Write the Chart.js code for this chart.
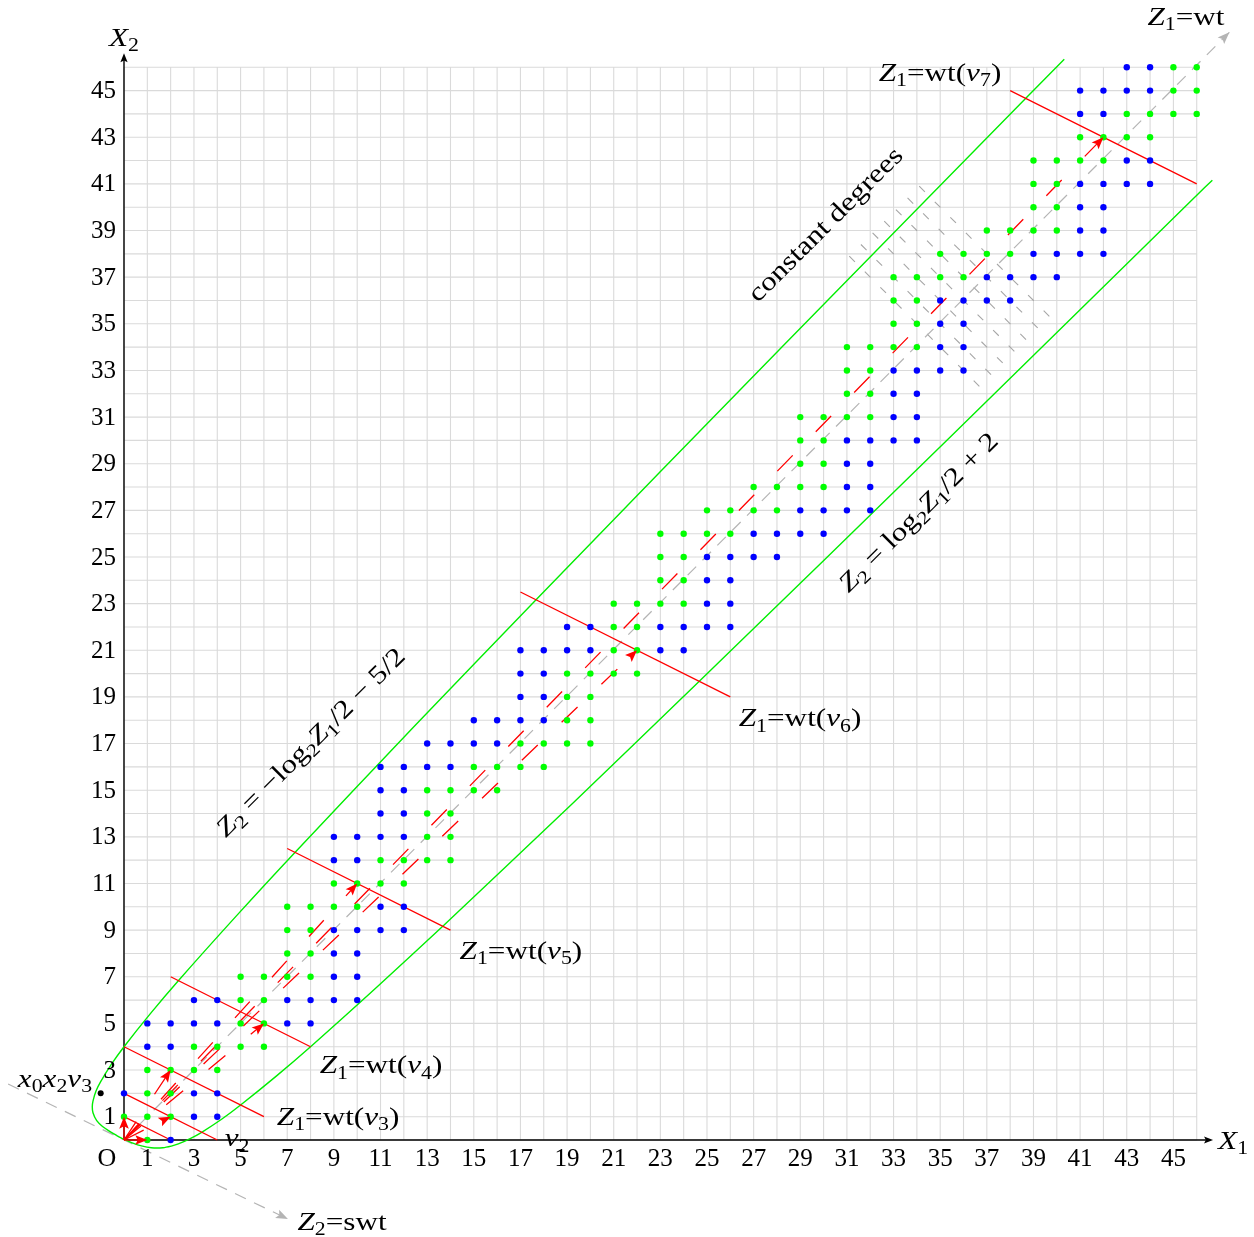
<!DOCTYPE html>
<html>
<head>
<meta charset="utf-8">
<script src="https://cdn.jsdelivr.net/npm/chart.js@4.4.1/dist/chart.umd.min.js"></script>
<style>
  html, body { margin: 0; padding: 0; background: #fff; }
  #wrap { width: 1254px; height: 1237px; }
</style>
</head>
<body>
<div id="wrap"><canvas id="chart" width="1254" height="1237"></canvas></div>
<script>
// lattice points, one entry per row: [X2, [X1 values]]
const greenRows = [
  [0, [1]], [1, [0, 1, 2]], [2, [1, 2]], [3, [1, 2, 3, 4]], [4, [3, 4, 5, 6]],
  [5, [5, 6]], [6, [5, 6]], [7, [5, 6, 7, 8]], [8, [7, 8]], [9, [7, 8]],
  [10, [7, 8, 9, 10]], [11, [9, 10, 11, 12]], [12, [11, 12, 13, 14]], [13, [13, 14]], [14, [13, 14]],
  [15, [13, 14, 15, 16]], [16, [15, 16, 17, 18]], [17, [17, 18, 19, 20]], [18, [19, 20]], [19, [19, 20]],
  [20, [19, 20, 21, 22]], [21, [21, 22]], [22, [21, 22]], [23, [21, 22, 23, 24]], [24, [23, 24]],
  [25, [23, 24]], [26, [23, 24, 25, 26]], [27, [25, 26, 27, 28]], [28, [27, 28, 29, 30]], [29, [29, 30]],
  [30, [29, 30]], [31, [29, 30, 31, 32]], [32, [31, 32]], [33, [31, 32]], [34, [31, 32, 33, 34]],
  [35, [33, 34]], [36, [33, 34]], [37, [33, 34, 35, 36]], [38, [35, 36, 37, 38]], [39, [37, 38, 39, 40]],
  [40, [39, 40]], [41, [39, 40]], [42, [39, 40, 41, 42]], [43, [41, 42, 43, 44]], [44, [43, 44, 45, 46]],
  [45, [45, 46]], [46, [45, 46]]
];
const blueRows = [
  [0, [2]], [1, [3, 4]], [2, [0, 3, 4]], [4, [1, 2]], [5, [1, 2, 3, 4, 7, 8]],
  [6, [3, 4, 7, 8, 9, 10]], [7, [9, 10]], [8, [9, 10]], [9, [9, 10, 11, 12]], [10, [11, 12]],
  [12, [9, 10]], [13, [9, 10, 11, 12]], [14, [11, 12]], [15, [11, 12]], [16, [11, 12, 13, 14]],
  [17, [13, 14, 15, 16]], [18, [15, 16, 17, 18]], [19, [17, 18]], [20, [17, 18]], [21, [17, 18, 19, 20, 23, 24]],
  [22, [19, 20, 23, 24, 25, 26]], [23, [25, 26]], [24, [25, 26]], [25, [25, 26, 27, 28]], [26, [27, 28, 29, 30]],
  [27, [29, 30, 31, 32]], [28, [31, 32]], [29, [31, 32]], [30, [31, 32, 33, 34]], [31, [33, 34]],
  [32, [33, 34]], [33, [33, 34, 35, 36]], [34, [35, 36]], [35, [35, 36]], [36, [35, 36, 37, 38]],
  [37, [37, 38, 39, 40]], [38, [39, 40, 41, 42]], [39, [41, 42]], [40, [41, 42]], [41, [41, 42, 43, 44]],
  [42, [43, 44]], [44, [41, 42]], [45, [41, 42, 43, 44]], [46, [43, 44]]
];
const blackDots = [[-1, 2]];

// Z1 = wt(v_k) level lines (x1 + 2 x2 = 2^k), end points
const wtLineEnds = [
  [[0, 1], [2, 0]], [[0, 2], [4, 0]], [[0, 4], [6, 1]], [[2, 7], [8, 4]],
  [[7, 12.5], [14, 9]], [[17, 23.5], [26, 19]], [[38, 45], [46, 41]]
];
// arrows from the origin
const solidArrowTips = [[0, 1], [1, 0]];
const dashedArrowTips = [[2, 1], [2, 3], [6, 5], [10, 11], [22, 21], [42, 43]];

// green bounds, points
const upperCurve = [
  [40.32, 46.34], [38.67, 44.67], [28.14, 33.93], [17.67, 23.17], [12.47, 17.76], [7.33, 12.33],
  [4.81, 9.60], [2.33, 6.83], [1.14, 5.43], [0, 4], [-0.53, 3.26], [-1.0, 2.5], [-1.2, 2.1],
  [-1.33, 1.67], [-1.36, 1.43], [-1.33, 1.17], [-1.17, 0.83], [-0.92, 0.58], [-0.63, 0.38],
  [-0.31, 0.19], [-0.15, 0.10]
];
const lowerCurve = [
  [0.02, 0.02], [0.38, -0.13], [0.75, -0.25], [1.17, -0.33], [1.67, -0.33], [2.03, -0.26],
  [2.33, -0.17], [2.86, 0.07], [3.33, 0.33], [4.2, 0.9], [5, 1.5], [6.53, 2.74], [8, 4],
  [10.86, 6.57], [13.67, 9.17], [19.2, 14.4], [24.67, 19.67], [35.53, 30.24], [46.33, 40.83], [46.67, 41.16]
];

// gray reference axes
const wtAxis = [[0, 0], [47.4, 47.5]];
const swtAxis = [[-4.97, 2.4], [7.03, -3.39]];

// "constant degrees" hatch: x1 + x2 = d, running across x1 - x2 in hatchSpan
const hatchDegrees = [69, 70, 71, 72, 73, 74, 75];
const hatchSpan = [-6.8, 5];

const gridMax = 46;
const oddTicks = [1, 3, 5, 7, 9, 11, 13, 15, 17, 19, 21, 23, 25, 27, 29, 31, 33, 35, 37, 39, 41, 43, 45];

// ---------------------------------------------------------------
const U = 23.32;
const W = 1254, H = 1237, OX = 124, OY = 1140;

const rowsToPts = rows => rows.flatMap(([yv, xs]) => xs.map(xv => ({ x: xv, y: yv })));
const pairsToPts = arr => arr.map(([a, b]) => ({ x: a, y: b }));

const RED = '#ff0000', GREEN = '#00ee00', GRAY = '#b4b4b4';

const datasets = [];
datasets.push({ data: rowsToPts(greenRows), pointRadius: 3.2, pointBackgroundColor: '#00ff00', pointBorderWidth: 0, order: 1 });
datasets.push({ data: rowsToPts(blueRows), pointRadius: 3.2, pointBackgroundColor: '#0000ff', pointBorderWidth: 0, order: 1 });
datasets.push({ data: pairsToPts(blackDots), pointRadius: 3, pointBackgroundColor: '#000', pointBorderWidth: 0, order: 1 });

wtLineEnds.forEach(seg => datasets.push({
  data: pairsToPts(seg), showLine: true, borderColor: RED, borderWidth: 1.3, pointRadius: 0, order: 3
}));
solidArrowTips.forEach(t => datasets.push({
  data: pairsToPts([[0, 0], t]), showLine: true, borderColor: RED, borderWidth: 1.3, pointRadius: 0, order: 2
}));
dashedArrowTips.forEach(t => datasets.push({
  data: pairsToPts([[0, 0], t]), showLine: true, borderColor: RED, borderWidth: 1.3,
  borderDash: [22, 33], pointRadius: 0, order: 2
}));
datasets.push({ data: pairsToPts(upperCurve.concat(lowerCurve)), showLine: true, borderColor: GREEN,
  borderWidth: 1.4, tension: 0.3, pointRadius: 0, order: 4 });
[wtAxis, swtAxis].forEach(seg => datasets.push({
  data: pairsToPts(seg), showLine: true, borderColor: GRAY, borderWidth: 1.2, borderDash: [12, 9], pointRadius: 0, order: 5
}));
hatchDegrees.forEach(d => datasets.push({
  data: hatchSpan.map(s => ({ x: (d + s) / 2, y: (d - s) / 2 })), showLine: true, borderColor: '#a6a6a6',
  borderWidth: 1.1, borderDash: [8, 14], pointRadius: 0, order: 6
}));

// text helpers
const SERIF = '"Liberation Serif", "DejaVu Serif", serif';
function fontFor(st, size) {
  return (st === 'i' ? 'italic ' : '') + (st === 's' ? size * 0.7 : size) + 'px ' + SERIF;
}
function richText(ctx, runs, px, py, size, angle, stretch) {
  ctx.save();
  ctx.translate(px, py);
  if (angle) ctx.rotate(angle);
  ctx.scale(stretch, 1);
  const widths = runs.map(([t, st]) => { ctx.font = fontFor(st, size); return ctx.measureText(t).width; });
  const total = widths.reduce((a, b) => a + b, 0);
  let cx = -total / 2;
  ctx.textBaseline = 'alphabetic';
  ctx.textAlign = 'left';
  ctx.fillStyle = '#000';
  runs.forEach(([t, st], k) => {
    ctx.font = fontFor(st, size);
    const dy = st === 's' ? size * 0.2 : 0;
    ctx.fillText(t, cx, size * 0.33 + dy);
    cx += widths[k];
  });
  ctx.restore();
}
function arrowHead(ctx, x0, y0, x1, y1, len, half, color) {
  const a = Math.atan2(y1 - y0, x1 - x0);
  ctx.save();
  ctx.fillStyle = color;
  ctx.translate(x1, y1);
  ctx.rotate(a);
  ctx.beginPath();
  ctx.moveTo(0, 0);
  ctx.lineTo(-len, -half);
  ctx.lineTo(-len * 0.8, 0);
  ctx.lineTo(-len, half);
  ctx.closePath();
  ctx.fill();
  ctx.restore();
}

const wtLabel = k => [['Z', 'i'], ['1', 's'], ['=', 'r'], ['wt(', 'r'], ['v', 'i'], [String(k), 's'], [')', 'r']];
const labels = [
  { runs: [['X', 'i'], ['2', 's']], at: [0, 47.3] },
  { runs: [['X', 'i'], ['1', 's']], at: [47.56, 0] },
  { runs: [['Z', 'i'], ['1', 's'], ['=', 'r'], ['wt', 'r']], at: [45.54, 48.2] },
  { runs: [['Z', 'i'], ['2', 's'], ['=', 'r'], ['swt', 'r']], at: [9.35, -3.47] },
  { runs: wtLabel(7), at: [34.99, 45.8] },
  { runs: wtLabel(6), at: [28.99, 18.1] },
  { runs: wtLabel(5), at: [17.02, 8.15] },
  { runs: wtLabel(4), at: [11.02, 3.22] },
  { runs: wtLabel(3), at: [9.18, 1.03] },
  { runs: [['v', 'i'], ['2', 's']], at: [4.85, 0.09] },
  { runs: [['x', 'i'], ['0', 's'], ['x', 'i'], ['2', 's'], ['v', 'i'], ['3', 's']], at: [-2.96, 2.66] },
  { runs: [['O', 'r']], at: [-0.73, -0.73], stretch: 1 },
  { runs: [['Z', 'i'], ['2', 's'], [' = \u2212log', 'r'], ['2', 's'], ['Z', 'i'], ['1', 's'], ['/2 \u2212 5/2', 'r']], at: [7.98, 17.07], rot: -Math.PI / 4 },
  { runs: [['Z', 'i'], ['2', 's'], [' = log', 'r'], ['2', 's'], ['Z', 'i'], ['1', 's'], ['/2 + 2', 'r']], at: [34.05, 26.93], rot: -Math.PI / 4 },
  { runs: [['constant degrees', 'r']], at: [30.06, 39.28], rot: -Math.PI / 4 }
];

const decor = {
  id: 'decor',
  beforeDatasetsDraw(chart) {
    const { ctx, scales: { x, y } } = chart;
    const X = v => x.getPixelForValue(v), Y = v => y.getPixelForValue(v);
    ctx.save();
    ctx.strokeStyle = '#dadada';
    ctx.lineWidth = 1.1;
    ctx.beginPath();
    for (let i = 0; i <= gridMax; i++) {
      ctx.moveTo(X(i), Y(0)); ctx.lineTo(X(i), Y(gridMax));
      ctx.moveTo(X(0), Y(i)); ctx.lineTo(X(gridMax), Y(i));
    }
    ctx.stroke();
    // axes
    ctx.strokeStyle = '#000';
    ctx.lineWidth = 1.4;
    ctx.beginPath();
    ctx.moveTo(X(0), Y(0)); ctx.lineTo(X(46.5), Y(0));
    ctx.moveTo(X(0), Y(0)); ctx.lineTo(X(0), Y(46.45));
    ctx.stroke();
    arrowHead(ctx, X(0), Y(0), X(46.7), Y(0), 9, 3.6, '#000');
    arrowHead(ctx, X(0), Y(0), X(0), Y(46.6), 9, 3.6, '#000');
    ctx.restore();
  },
  afterDatasetsDraw(chart) {
    const { ctx, scales: { x, y } } = chart;
    const X = v => x.getPixelForValue(v), Y = v => y.getPixelForValue(v);
    // arrow heads
    solidArrowTips.concat(dashedArrowTips).forEach(([a, b]) =>
      arrowHead(ctx, X(0), Y(0), X(a), Y(b), 12, 4.8, RED));
    [wtAxis, swtAxis].forEach(([p, q]) => arrowHead(ctx, X(p[0]), Y(p[1]), X(q[0]), Y(q[1]), 12, 4.6, GRAY));
    // tick labels
    ctx.save();
    ctx.fillStyle = '#000';
    ctx.font = '25px ' + SERIF;
    ctx.textAlign = 'center';
    ctx.textBaseline = 'middle';
    oddTicks.forEach(v => ctx.fillText(String(v), X(v), Y(0) + 19));
    ctx.textAlign = 'right';
    oddTicks.forEach(v => ctx.fillText(String(v), X(0) - 8, Y(v) + 1));
    ctx.restore();
    labels.forEach(l => richText(ctx, l.runs, X(l.at[0]), Y(l.at[1]), 26, l.rot || 0, l.stretch || 1.2));
  }
};

new Chart(document.getElementById('chart'), {
  type: 'scatter',
  data: { datasets },
  options: {
    responsive: false,
    animation: false,
    devicePixelRatio: 1,
    events: [],
    layout: { padding: 0, autoPadding: false },
    plugins: { legend: { display: false }, tooltip: { enabled: false } },
    scales: {
      x: { type: 'linear', display: false, min: -OX / U, max: (W - OX) / U },
      y: { type: 'linear', display: false, min: -(H - OY) / U, max: OY / U }
    }
  },
  plugins: [decor]
});
</script>
</body>
</html>
